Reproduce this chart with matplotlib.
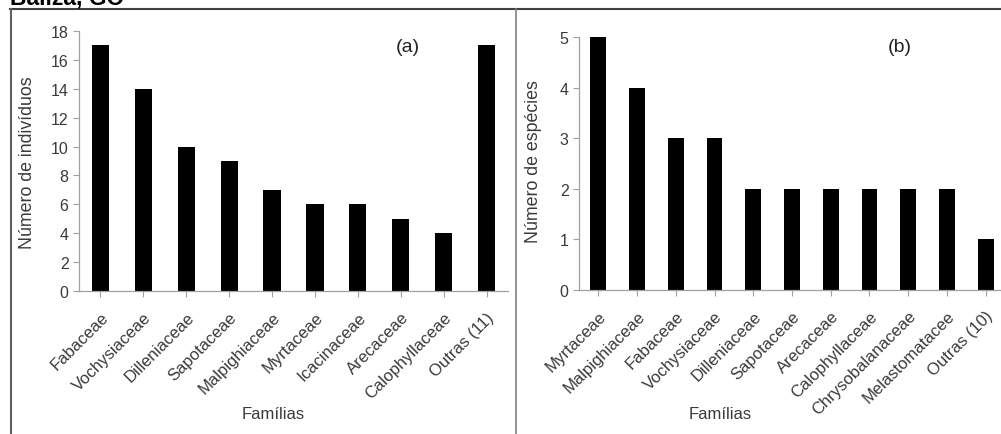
import matplotlib.pyplot as plt
from matplotlib.lines import Line2D

familias_a = ['Fabaceae', 'Vochysiaceae', 'Dilleniaceae', 'Sapotaceae', 'Malpighiaceae',
              'Myrtaceae', 'Icacinaceae', 'Arecaceae', 'Calophyllaceae', 'Outras (11)']
individuos = [17, 14, 10, 9, 7, 6, 6, 5, 4, 17]

familias_b = ['Myrtaceae', 'Malpighiaceae', 'Fabaceae', 'Vochysiaceae', 'Dilleniaceae',
              'Sapotaceae', 'Arecaceae', 'Calophyllaceae', 'Chrysobalanaceae',
              'Melastomatacee', 'Outras (10)']
especies = [5, 4, 3, 3, 2, 2, 2, 2, 2, 2, 1]

plt.rcParams['font.family'] = ['Liberation Sans', 'DejaVu Sans']
W, H = 1001, 435
fig = plt.figure(figsize=(W / 100, H / 100), dpi=100)
txt = '#3a3a3a'
axc = '#a0a0a0'


def px(x, y):
    # pixel (from top-left) -> figure fraction
    return x / W, 1 - y / H


def panel(rect, cats, vals, ymax, step, width, tag, tagpos):
    ax = fig.add_axes(rect)
    x = range(len(cats))
    ax.bar(x, vals, width=width, color='black')
    ax.set_xlim(-0.5, len(cats) - 0.5)
    ax.set_ylim(0, ymax)
    ax.set_yticks(range(0, ymax + 1, step))
    ax.set_xticks(list(x))
    ax.set_xticklabels(cats, rotation=45, ha='right', rotation_mode='anchor',
                       fontsize=12, color=txt)
    ax.tick_params(axis='y', labelsize=11.5, labelcolor=txt, color=axc, length=4, width=0.8)
    ax.tick_params(axis='x', color=axc, length=4, width=0.8, pad=9)
    for s in ['top', 'right']:
        ax.spines[s].set_visible(False)
    for s in ['left', 'bottom']:
        ax.spines[s].set_color(axc)
        ax.spines[s].set_linewidth(0.9)
    fig.text(*px(*tagpos), tag, fontsize=14, color='#222222', ha='center', va='center')
    return ax


panel([79 / W, 143 / H, 429 / W, 260 / H], familias_a, individuos, 18, 2, 0.4,
      '(a)', (408, 48))
panel([579 / W, 144 / H, 426 / W, 253 / H], familias_b, especies, 5, 1, 0.41,
      '(b)', (900, 48))

fig.text(*px(28, 163), 'Número de indivíduos', rotation=90, fontsize=12.8,
         color=txt, ha='center', va='center')
fig.text(*px(533, 162), 'Número de espécies', rotation=90, fontsize=12.8,
         color=txt, ha='center', va='center')
fig.text(*px(273, 415), 'Famílias', fontsize=12, color=txt, ha='center', va='center')
fig.text(*px(720, 415), 'Famílias', fontsize=12, color=txt, ha='center', va='center')

# cut-off title and frame lines
fig.text(*px(10, 4), 'Baliza, GO', fontsize=16.5, fontweight='bold', color='black',
         ha='left', va='baseline')
fig.add_artist(Line2D([10 / W, 1], [1 - 10 / H] * 2, color='#404040', lw=1.5))
fig.add_artist(Line2D([11 / W] * 2, [0, 1 - 10 / H], color='#606060', lw=1.5))
fig.add_artist(Line2D([516 / W] * 2, [0, 1 - 10 / H], color='#808080', lw=1.2))

fig.savefig('out.png', dpi=100)
